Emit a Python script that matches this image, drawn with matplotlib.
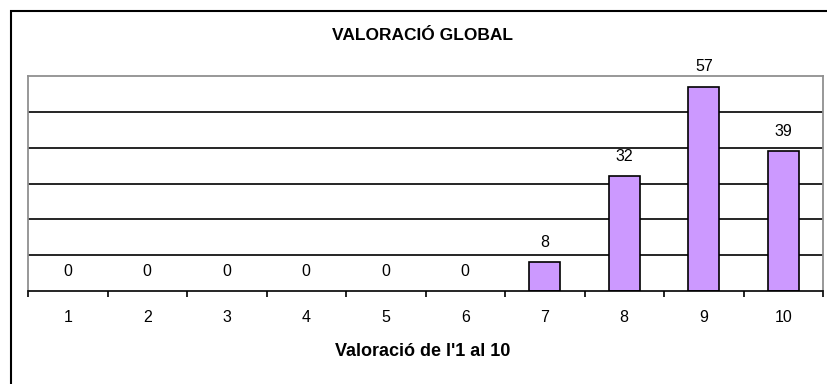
import matplotlib
matplotlib.use('Agg')
import matplotlib.pyplot as plt
from matplotlib.patches import Rectangle
from matplotlib.ticker import FixedLocator

# Datos del gráfico
categorias = ['1', '2', '3', '4', '5', '6', '7', '8', '9', '10']
valores = [0, 0, 0, 0, 0, 0, 8, 32, 57, 39]
titulo = 'VALORACIÓ GLOBAL'
etiqueta_x = "Valoració de l'1 al 10"

plt.rcParams['font.family'] = ['Liberation Sans', 'DejaVu Sans']

W, H = 827, 384
fig = plt.figure(figsize=(W / 100, H / 100), dpi=100)
fig.patch.set_facecolor('white')

# Marco exterior del gráfico
fig.patches.append(Rectangle((11 / W, -0.2), 1.2, 1 - 11 / H + 0.2, transform=fig.transFigure,
                             fill=False, edgecolor='black', linewidth=1.5))

ax = fig.add_axes([28 / W, 1 - 291 / H, (823 - 28) / W, (291 - 76) / H])
pos = list(range(len(categorias)))
# Las barras con valor 0 no se dibujan (igual que en el original)
bordes = [1.2 if v > 0 else 0 for v in valores]
ax.bar(pos, valores, width=0.39, color='#CC99FF', edgecolor='black', linewidth=bordes, zorder=3)

ax.set_xlim(-0.5, len(categorias) - 0.5)
ax.set_ylim(0, 60)

# Líneas horizontales cada 10
for y in range(10, 60, 10):
    ax.axhline(y, color='black', linewidth=1.2, zorder=1)

ax.set_yticks([])
ax.set_xticks(pos)
ax.set_xticklabels(categorias, fontsize=11.5)
ax.tick_params(axis='x', which='major', length=0, pad=14)
ax.xaxis.set_minor_locator(FixedLocator([p - 0.5 for p in range(len(categorias) + 1)]))
ax.tick_params(axis='x', which='minor', length=4, width=1.2, color='black')

for lado in ['left', 'top', 'right']:
    ax.spines[lado].set_color('#909090')
    ax.spines[lado].set_linewidth(1.3)
ax.spines['bottom'].set_color('black')
ax.spines['bottom'].set_linewidth(1.2)
ax.spines['bottom'].set_zorder(4)

# Etiquetas de valores encima de las barras
for p, v in zip(pos, valores):
    ax.annotate(str(v), (p, v), xytext=(0, 9), textcoords='offset points',
                ha='center', va='bottom', fontsize=11.5, annotation_clip=False)

fig.text(423 / W, 1 - 36 / H, titulo, ha='center', va='center', fontsize=12.5, fontweight='bold')
fig.text(423 / W, 1 - 351 / H, etiqueta_x, ha='center', va='center', fontsize=13, fontweight='bold')

plt.savefig('out.png', dpi=100)
plt.close()
